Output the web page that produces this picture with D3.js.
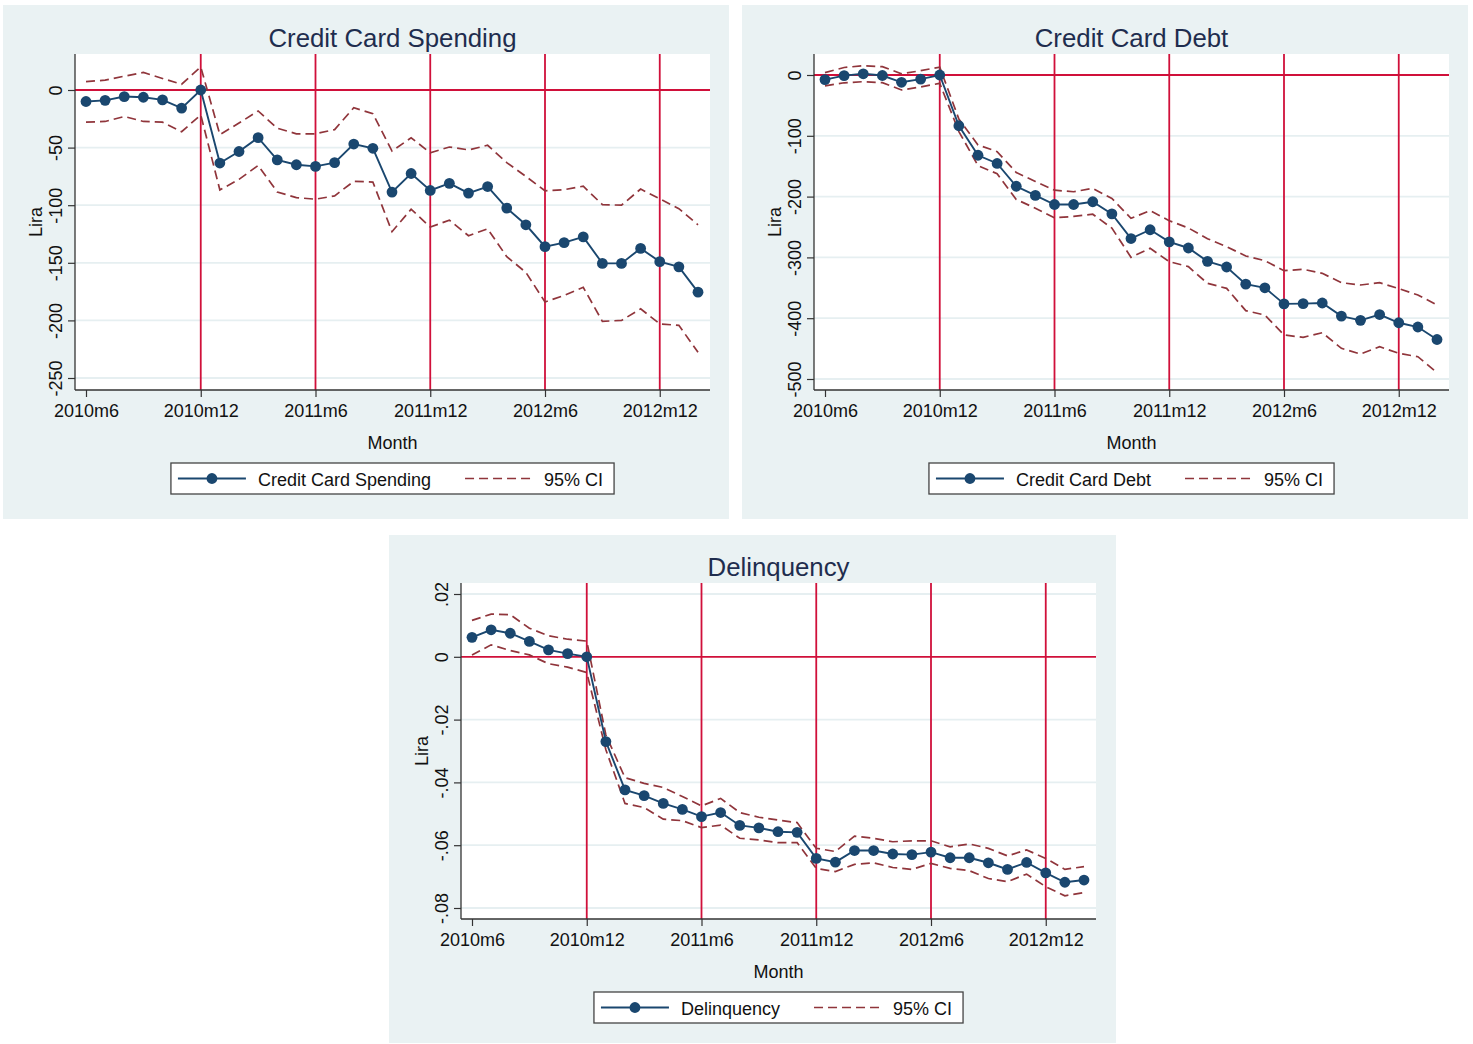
<!DOCTYPE html>
<html>
<head>
<meta charset="utf-8">
<script src="https://cdn.jsdelivr.net/npm/d3@7/dist/d3.min.js"></script>
<style>
body { margin: 0; background: #fff; }
svg text { font-family: "Liberation Sans", Arial, sans-serif; }
</style>
</head>
<body>
<svg id="chart" width="1473" height="1044"></svg>
<script>
var months = ["2010m6","2010m7","2010m8","2010m9","2010m10","2010m11","2010m12",
  "2011m1","2011m2","2011m3","2011m4","2011m5","2011m6","2011m7","2011m8","2011m9",
  "2011m10","2011m11","2011m12","2012m1","2012m2","2012m3","2012m4","2012m5","2012m6",
  "2012m7","2012m8","2012m9","2012m10","2012m11","2012m12","2013m1","2013m2"];

var xTickLabels = ["2010m6","2010m12","2011m6","2011m12","2012m6","2012m12"];
var refMonths = ["2010m12","2011m6","2011m12","2012m6","2012m12"];

// Credit card spending
var spendEst = [-10,-9,-5.7,-6.3,-8.6,-15.7,0,-63.4,-53.4,-41.4,-60.6,-64.9,-66.3,-63.1,-46.9,-50.6,
  -88.6,-72.5,-87.2,-81,-89.5,-83.8,-102.5,-117,-136,-132.5,-127.5,-150.5,-150.5,-137.5,-149,-153.5,-175.5];
var spendHi = [7.2,8.6,12,15.2,10,5,20,-38.7,-28.7,-18.2,-33.2,-38,-38,-34.4,-15.4,-20.6,
  -53,-41.5,-54.5,-49.5,-52,-48,-63,-75,-87.5,-86.5,-83.5,-99.5,-100,-86,-94.5,-103,-117];
var spendLo = [-27.9,-27.3,-23,-27.3,-27.9,-36.2,-21.6,-86.8,-77.6,-65.5,-88.5,-93.4,-94.8,-91.9,-79.3,-79.9,
  -123,-103.5,-119,-113,-126.5,-120.5,-144.7,-158.3,-184,-178.3,-171.3,-200.8,-200,-190,-203,-204.3,-227.7];
var spendTicks = [0,-50,-100,-150,-200,-250];
var spendTickLabels = ["0","-50","-100","-150","-200","-250"];

// Credit card debt
var debtEst = [-7.5,-1,2,-0.8,-12,-6.8,0,-83.5,-132,-145.5,-183,-198,-213,-213,-208.5,-228.5,
  -269,-254.5,-274.5,-284.5,-306.5,-315.8,-344,-350,-376.5,-376,-375,-396.5,-403.5,-394,-407.5,-414.5,-435];
var debtHi = [4,12.3,15.3,13.7,2,7.1,13,-72.5,-115,-126,-160.3,-175,-189.5,-192,-186.5,-203,
  -235.7,-223,-239.6,-251.6,-269.2,-282.3,-297.7,-305.4,-321.8,-319.6,-326.2,-341.6,-345.4,-341.6,-351.4,-361.8,-378.3];
var debtLo = [-17.8,-12.8,-11,-12.6,-24.6,-19.6,-13.7,-93,-149,-162.3,-204.7,-219,-234.8,-232.6,-229,-251.8,
  -299.9,-285.1,-307,-315.2,-342.7,-350.9,-387.6,-394.7,-427.6,-431.5,-423.8,-449.6,-458.9,-446.8,-457.8,-463.3,-489.6];
var debtTicks = [0,-100,-200,-300,-400,-500];
var debtTickLabels = ["0","-100","-200","-300","-400","-500"];

// Delinquency
var delEst = [0.0062,0.0086,0.0075,0.0049,0.0022,0.001,0,-0.027,-0.0424,-0.0442,-0.0467,-0.0486,-0.0509,-0.0496,-0.0537,-0.0545,
  -0.0557,-0.0559,-0.0642,-0.0654,-0.0617,-0.0617,-0.0628,-0.063,-0.0622,-0.064,-0.064,-0.0656,-0.0677,-0.0655,-0.0688,-0.0718,-0.0711];
var delHi = [0.0116,0.0136,0.0134,0.0091,0.0067,0.0056,0.005,-0.0249,-0.0385,-0.0403,-0.0416,-0.0445,-0.0475,-0.0451,-0.0496,-0.0511,
  -0.052,-0.0528,-0.061,-0.062,-0.0571,-0.0578,-0.0589,-0.0586,-0.0586,-0.0605,-0.0596,-0.061,-0.0634,-0.0615,-0.0642,-0.0677,-0.0668];
var delLo = [0.0006,0.0038,0.002,0.0006,-0.0022,-0.0033,-0.005,-0.0296,-0.0467,-0.048,-0.0517,-0.0522,-0.0544,-0.0536,-0.0578,-0.0583,
  -0.0592,-0.0592,-0.0674,-0.0684,-0.0661,-0.0656,-0.0671,-0.0677,-0.0658,-0.0674,-0.0681,-0.0706,-0.0716,-0.0692,-0.0732,-0.0761,-0.0751];
var delTicks = [0.02,0,-0.02,-0.04,-0.06,-0.08];
var delTickLabels = [".02","0","-.02","-.04","-.06","-.08"];

var bgColor = "#eaf2f3";
var gridColor = "#e6eff1";
var refColor = "#d0103a";
var navy = "#1a476f";
var maroon = "#90353b";
var axisColor = "#333";
var titleColor = "#1f2d4e";
var fontSize = "18px";

var svg = d3.select("#chart");

renderPanel({x: 3, y: 5, w: 726, h: 514, title: "Credit Card Spending", est: spendEst, hi: spendHi, lo: spendLo,
  ticks: spendTicks, tickLabels: spendTickLabels, yTop: 36, yBot: 324, legend: "Credit Card Spending"});
renderPanel({x: 742, y: 5, w: 726, h: 514, title: "Credit Card Debt", est: debtEst, hi: debtHi, lo: debtLo,
  ticks: debtTicks, tickLabels: debtTickLabels, yTop: 21, yBot: 325, legend: "Credit Card Debt"});
renderPanel({x: 389, y: 535, w: 727, h: 508, title: "Delinquency", est: delEst, hi: delHi, lo: delLo,
  ticks: delTicks, tickLabels: delTickLabels, yTop: 11, yBot: 325, legend: "Delinquency", top: 48});

function renderPanel(o){
	var pl = o.x + 72, pt = o.y + (o.top || 49), pw = 635, ph = 336;

	var g = svg.append("g");
	g.append("rect").attr("x", o.x).attr("y", o.y).attr("width", o.w).attr("height", o.h).attr("fill", bgColor);

	var plot = g.append("g").attr("transform", "translate(" + pl + "," + pt + ")");
	plot.append("rect").attr("width", pw).attr("height", ph).attr("fill", "#fff");

	var xScale = d3.scalePoint().domain(months).range([11, 623]);
	var yScale = d3.scaleLinear()
		.domain([o.ticks[0], o.ticks[o.ticks.length - 1]])
		.range([o.yTop, o.yBot]);

	// grid lines
	plot.selectAll(".grid").data(o.ticks.filter(function(d){ return d !== 0; }))
		.enter().append("line")
		.attr("x1", 0).attr("x2", pw)
		.attr("y1", function(d){ return yScale(d); })
		.attr("y2", function(d){ return yScale(d); })
		.attr("stroke", gridColor).attr("stroke-width", 1.8);

	// reference lines
	plot.selectAll(".vref").data(refMonths).enter().append("line")
		.attr("x1", function(d){ return xScale(d); })
		.attr("x2", function(d){ return xScale(d); })
		.attr("y1", 0).attr("y2", ph)
		.attr("stroke", refColor).attr("stroke-width", 1.8);
	plot.append("line")
		.attr("x1", 0).attr("x2", pw)
		.attr("y1", yScale(0)).attr("y2", yScale(0))
		.attr("stroke", refColor).attr("stroke-width", 1.8);

	var line = d3.line()
		.x(function(d, i){ return xScale(months[i]); })
		.y(function(d){ return yScale(d); });

	[o.hi, o.lo].forEach(function(ci){
		plot.append("path").attr("d", line(ci))
			.attr("fill", "none").attr("stroke", maroon)
			.attr("stroke-width", 1.7).attr("stroke-dasharray", "9,5");
	});

	plot.append("path").attr("d", line(o.est))
		.attr("fill", "none").attr("stroke", navy).attr("stroke-width", 1.9);

	plot.selectAll(".pt").data(o.est).enter().append("circle")
		.attr("cx", function(d, i){ return xScale(months[i]); })
		.attr("cy", function(d){ return yScale(d); })
		.attr("r", 5.4).attr("fill", navy);

	// axes
	var yAxis = d3.axisLeft(yScale).tickValues(o.ticks).tickSize(7)
		.tickFormat(function(d, i){ return o.tickLabels[i]; });
	var ya = plot.append("g").call(yAxis);
	ya.select(".domain").remove();
	ya.selectAll(".tick line").attr("stroke", axisColor).attr("stroke-width", 1.2);
	ya.selectAll(".tick text")
		.attr("x", 0).attr("y", -13).attr("dy", null)
		.attr("transform", "rotate(-90)")
		.attr("text-anchor", "middle")
		.attr("fill", "#111").style("font-size", fontSize);

	var xAxis = d3.axisBottom(xScale).tickValues(xTickLabels).tickSize(7);
	var xa = plot.append("g").attr("transform", "translate(0," + ph + ")").call(xAxis);
	xa.select(".domain").remove();
	xa.selectAll(".tick line").attr("stroke", axisColor).attr("stroke-width", 1.2);
	xa.selectAll(".tick text")
		.attr("y", 27).attr("dy", null)
		.attr("fill", "#111").style("font-size", fontSize);

	plot.append("line").attr("x1", 0).attr("x2", 0).attr("y1", 0).attr("y2", ph)
		.attr("stroke", axisColor).attr("stroke-width", 1.3);
	plot.append("line").attr("x1", 0).attr("x2", pw).attr("y1", ph).attr("y2", ph)
		.attr("stroke", axisColor).attr("stroke-width", 1.3);

	// titles
	var cx = pl + pw / 2;
	g.append("text").attr("x", cx).attr("y", pt - 7)
		.attr("text-anchor", "middle").attr("fill", titleColor)
		.style("font-size", "25.8px").text(o.title);
	g.append("text").attr("x", cx).attr("y", pt + ph + 59)
		.attr("text-anchor", "middle").attr("fill", "#111")
		.style("font-size", fontSize).text("Month");
	g.append("text")
		.attr("transform", "translate(" + (pl - 33.5) + "," + (pt + ph / 2) + ") rotate(-90)")
		.attr("text-anchor", "middle").attr("fill", "#111")
		.style("font-size", fontSize).text("Lira");

	// legend
	var lg = g.append("g");
	var ly = pt + ph + 73;
	var box = lg.append("rect").attr("y", ly).attr("height", 31)
		.attr("fill", "#fff").attr("stroke", "#444").attr("stroke-width", 1.3);
	var t1 = lg.append("text").attr("y", ly + 22.7).attr("fill", "#111")
		.style("font-size", fontSize).text(o.legend);
	var t2 = lg.append("text").attr("y", ly + 22.7).attr("fill", "#111")
		.style("font-size", fontSize).text("95% CI");
	var w1 = t1.node().getComputedTextLength();
	var w2 = t2.node().getComputedTextLength();
	var total = 7 + 68 + 12 + w1 + 34 + 69 + 10 + w2 + 11;
	var bx = cx - total / 2;
	box.attr("x", bx).attr("width", total);
	var k1 = bx + 7, mid = ly + 15.5;
	lg.append("line").attr("x1", k1).attr("x2", k1 + 68).attr("y1", mid).attr("y2", mid)
		.attr("stroke", navy).attr("stroke-width", 1.9);
	lg.append("circle").attr("cx", k1 + 34).attr("cy", mid).attr("r", 5.4).attr("fill", navy);
	t1.attr("x", k1 + 68 + 12);
	var k2 = k1 + 68 + 12 + w1 + 34;
	lg.append("line").attr("x1", k2).attr("x2", k2 + 69).attr("y1", mid).attr("y2", mid)
		.attr("stroke", maroon).attr("stroke-width", 1.7).attr("stroke-dasharray", "9,5");
	t2.attr("x", k2 + 69 + 10);
}
</script>
</body>
</html>
